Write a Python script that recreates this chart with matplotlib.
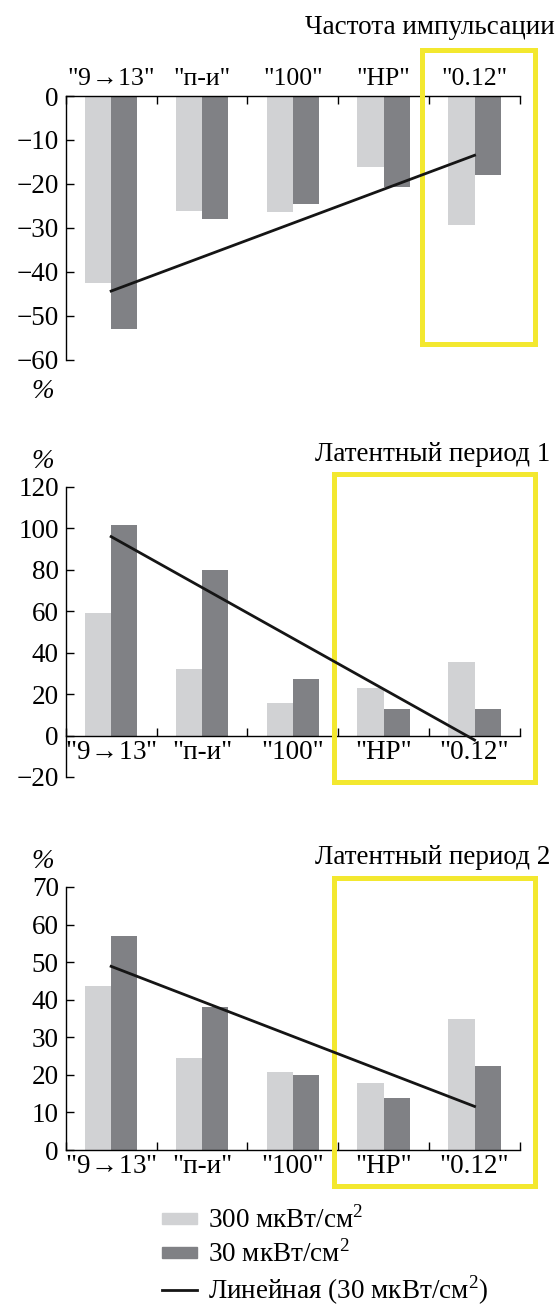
import numpy as np
import matplotlib.pyplot as plt
from matplotlib.patches import Rectangle, Patch
from matplotlib.lines import Line2D
from matplotlib.legend_handler import HandlerPatch

plt.rcParams['font.family'] = ['Liberation Serif', 'DejaVu Serif']
plt.rcParams['mathtext.fontset'] = 'custom'
plt.rcParams['mathtext.rm'] = 'Liberation Serif'
plt.rcParams['font.size'] = 19.5

categories = ['"9$\\!\\rightarrow\\!$13"', '"п-и"', '"100"', '"НР"', '"0.12"']

# percent change vs control, two exposure levels
freq_300 = [-42.5, -26.1, -26.5, -16.2, -29.3]
freq_30 = [-53.1, -28.1, -24.7, -20.8, -18.1]
lat1_300 = [59.0, 32.2, 15.6, 23.1, 35.6]
lat1_30 = [101.8, 80.0, 27.5, 12.7, 12.7]
lat2_300 = [43.6, 24.5, 20.8, 17.8, 35.0]
lat2_30 = [56.9, 38.1, 19.9, 13.9, 22.4]

titles = ['Частота импульсации', 'Латентный период 1', 'Латентный период 2']
legend_labels = ['300 мкВт/см$^2$', '30 мкВт/см$^2$', 'Линейная (30 мкВт/см$^2$)']

light_color = '#d1d2d4'
dark_color = '#808185'
yellow = '#f3e82f'
bar_w = 0.29


def draw_panel(ax, light, dark, ylim, yticks, top_axis, box):
    x = np.arange(1, len(categories) + 1)
    ax.bar(x - bar_w / 2, light, bar_w, color=light_color, zorder=2)
    ax.bar(x + bar_w / 2, dark, bar_w, color=dark_color, zorder=2)
    k, b = np.polyfit(x, dark, 1)
    ends = x[[0, -1]]
    ax.plot(ends, k * ends + b, color='#151515', lw=2, zorder=4)

    ax.set_xlim(0.5, 5.5)
    ax.set_ylim(*ylim)
    ax.set_yticks(yticks)
    ax.set_xticks(np.arange(0.5, 6, 1))
    ax.set_xticklabels([])
    ax.set_xticks(x, minor=True)
    ax.set_xticklabels(categories, minor=True, fontsize=18.5)
    ax.tick_params(axis='x', which='minor', length=0, pad=3)
    ax.tick_params(axis='x', which='major', direction='in', length=5.5, width=1)
    ax.tick_params(axis='y', direction='in', length=5.5, width=1, pad=5)
    for s in ax.spines.values():
        s.set_linewidth(1)
    ax.spines['right'].set_visible(False)
    if top_axis:
        ax.xaxis.set_ticks_position('top')
        ax.xaxis.set_label_position('top')
        ax.spines['bottom'].set_visible(False)
        ax.tick_params(axis='x', which='minor', pad=4)
    else:
        ax.spines['top'].set_visible(False)
        ax.spines['bottom'].set_position(('data', 0))

    x0, x1, y0, y1 = box
    ax.add_patch(Rectangle((x0, y0), x1 - x0, y1 - y0, fill=False, ec=yellow,
                           lw=3.6, clip_on=False, zorder=3))


fig = plt.figure(figsize=(5.58, 13.06), dpi=100)
H = 1306.0
W = 558.0
left = 65.7 / W
width = (520 - 65.7) / W

ax1 = fig.add_axes([left, (H - 359.5) / H, width, 263.5 / H])
ax2 = fig.add_axes([left, (H - 777) / H, width, 290 / H])
ax3 = fig.add_axes([left, (H - 1150) / H, width, 263 / H])

draw_panel(ax1, freq_300, freq_30, (-60, 0), np.arange(0, -61, -10), True,
           (4.416, 5.67, -56.4, 10.4))
draw_panel(ax2, lat1_300, lat1_30, (-20, 120), np.arange(-20, 121, 20), False,
           (3.458, 5.66, -22.4, 126.1))
draw_panel(ax3, lat2_300, lat2_30, (0, 70), np.arange(0, 71, 10), False,
           (3.458, 5.66, -9.7, 72.5))

fig.text(555 / W, 1 - 28 / H, titles[0], ha='right', va='center')
fig.text(550 / W, 1 - 454 / H, titles[1], ha='right', va='center')
fig.text(550 / W, 1 - 857 / H, titles[2], ha='right', va='center')
for yp in (391, 462, 862):
    fig.text(43 / W, 1 - yp / H, '%', ha='center', va='center', style='italic')


def thin_patch(legend, orig_handle, xdescent, ydescent, width, height, fontsize):
    return Rectangle((-xdescent, -ydescent + height * 0.2), width, height * 0.6)


handles = [Patch(color=light_color), Patch(color=dark_color),
           Line2D([], [], color='#151515', lw=2)]
fig.legend(handles, legend_labels, loc='upper left',
           bbox_to_anchor=(162 / W, 1 - 1206 / H), frameon=False,
           handlelength=1.3, handletextpad=0.4, labelspacing=0.22,
           borderpad=0, borderaxespad=0,
           handler_map={Patch: HandlerPatch(patch_func=thin_patch)})

fig.savefig('out.png', dpi=100)
